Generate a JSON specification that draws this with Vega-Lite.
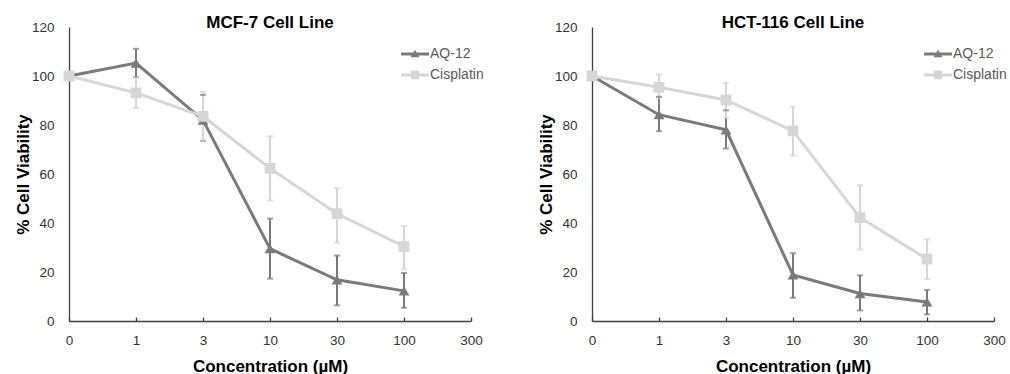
{
  "$schema": "https://vega.github.io/schema/vega-lite/v6.json",
  "padding": {"left": 14, "top": 14, "right": 0, "bottom": 0},
  "spacing": 53,
  "datasets": {
    "mcf7": [
      {"conc": "0", "series": "AQ-12", "mean": 100, "lo": 100, "hi": 100},
      {"conc": "1", "series": "AQ-12", "mean": 105.3, "lo": 99.5, "hi": 111.1},
      {"conc": "3", "series": "AQ-12", "mean": 82, "lo": 73.5, "hi": 92.3},
      {"conc": "10", "series": "AQ-12", "mean": 29.5, "lo": 17.3, "hi": 41.8},
      {"conc": "30", "series": "AQ-12", "mean": 16.8, "lo": 6.4, "hi": 26.7},
      {"conc": "100", "series": "AQ-12", "mean": 12.3, "lo": 5.4, "hi": 19.6},
      {"conc": "0", "series": "Cisplatin", "mean": 100, "lo": 100, "hi": 100},
      {"conc": "1", "series": "Cisplatin", "mean": 93.1, "lo": 87, "hi": 99.3},
      {"conc": "3", "series": "Cisplatin", "mean": 83.5, "lo": 73.8, "hi": 93.5},
      {"conc": "10", "series": "Cisplatin", "mean": 62.3, "lo": 49.2, "hi": 75.4},
      {"conc": "30", "series": "Cisplatin", "mean": 43.8, "lo": 32, "hi": 54.2},
      {"conc": "100", "series": "Cisplatin", "mean": 30.4, "lo": 21.1, "hi": 38.8}
    ],
    "hct116": [
      {"conc": "0", "series": "AQ-12", "mean": 100, "lo": 100, "hi": 100},
      {"conc": "1", "series": "AQ-12", "mean": 84.2, "lo": 77.5, "hi": 91.5},
      {"conc": "3", "series": "AQ-12", "mean": 78, "lo": 70.4, "hi": 86},
      {"conc": "10", "series": "AQ-12", "mean": 18.8, "lo": 9.5, "hi": 27.7},
      {"conc": "30", "series": "AQ-12", "mean": 11.2, "lo": 4.3, "hi": 18.6},
      {"conc": "100", "series": "AQ-12", "mean": 7.8, "lo": 2.7, "hi": 12.7},
      {"conc": "0", "series": "Cisplatin", "mean": 100, "lo": 100, "hi": 100},
      {"conc": "1", "series": "Cisplatin", "mean": 95.4, "lo": 91, "hi": 100.6},
      {"conc": "3", "series": "Cisplatin", "mean": 90.2, "lo": 83, "hi": 97.2},
      {"conc": "10", "series": "Cisplatin", "mean": 77.6, "lo": 67.5, "hi": 87.5},
      {"conc": "30", "series": "Cisplatin", "mean": 42.2, "lo": 29.2, "hi": 55.4},
      {"conc": "100", "series": "Cisplatin", "mean": 25.3, "lo": 17.1, "hi": 33.3}
    ]
  },
  "hconcat": [
    {
      "width": 402,
      "height": 294,
      "data": {"name": "mcf7"},
      "title": {"text": "MCF-7 Cell Line"},
      "encoding": {
        "x": {"field": "conc", "type": "ordinal", "title": "Concentration (µM)", "sort": null,
              "scale": {"type": "point", "padding": 0, "domain": ["0", "1", "3", "10", "30", "100", "300"]}}
      },
      "layer": [
        {"mark": {"type": "rule", "strokeWidth": 2},
         "encoding": {
           "y": {"field": "lo", "type": "quantitative", "title": "% Cell Viability", "scale": {"domain": [0, 120]}},
           "y2": {"field": "hi"},
           "color": {"field": "series", "type": "nominal", "legend": null, "scale": {"domain": ["AQ-12", "Cisplatin"], "range": ["#7a7a7a", "#d6d6d6"]}}}},
        {"mark": {"type": "tick", "thickness": 2, "size": 6},
         "encoding": {
           "y": {"field": "lo", "type": "quantitative", "title": "% Cell Viability", "scale": {"domain": [0, 120]}},
           "color": {"field": "series", "type": "nominal", "legend": null, "scale": {"domain": ["AQ-12", "Cisplatin"], "range": ["#7a7a7a", "#d6d6d6"]}}}},
        {"mark": {"type": "tick", "thickness": 2, "size": 6},
         "encoding": {
           "y": {"field": "hi", "type": "quantitative", "title": "% Cell Viability", "scale": {"domain": [0, 120]}},
           "color": {"field": "series", "type": "nominal", "legend": null, "scale": {"domain": ["AQ-12", "Cisplatin"], "range": ["#7a7a7a", "#d6d6d6"]}}}},
        {"mark": {"type": "line", "strokeWidth": 3},
         "encoding": {
           "y": {"field": "mean", "type": "quantitative", "title": "% Cell Viability", "scale": {"domain": [0, 120]}},
           "color": {"field": "series", "type": "nominal", "legend": null, "scale": {"domain": ["AQ-12", "Cisplatin"], "range": ["#7a7a7a", "#d6d6d6"]}}}},
        {"mark": {"type": "point", "filled": true, "opacity": 1, "size": 115},
         "encoding": {
           "y": {"field": "mean", "type": "quantitative", "title": "% Cell Viability", "scale": {"domain": [0, 120]}},
           "color": {"field": "series", "type": "nominal", "legend": null, "scale": {"domain": ["AQ-12", "Cisplatin"], "range": ["#7a7a7a", "#d6d6d6"]}},
           "shape": {"field": "series", "type": "nominal", "legend": null, "scale": {"domain": ["AQ-12", "Cisplatin"], "range": ["triangle-up", "square"]}}}},
        {"mark": {"type": "point", "filled": true, "opacity": 0},
         "encoding": {
           "y": {"field": "mean", "type": "quantitative", "title": "% Cell Viability", "scale": {"domain": [0, 120]}},
           "color": {"field": "series", "type": "nominal", "scale": {"domain": ["AQ-12", "Cisplatin"], "range": ["#7a7a7a", "#d6d6d6"]},
                     "legend": {"title": null, "orient": "none", "legendX": 332, "legendY": 13, "symbolSize": 784, "symbolOpacity": 1, "symbolStrokeWidth": 0, "labelOffset": 1, "padding": 0, "rowPadding": 0}},
           "shape": {"field": "series", "type": "nominal", "scale": {"domain": ["AQ-12", "Cisplatin"], "range": ["M-1,-0.1H1V0.1H-1Z M-0.32,0.24L0,-0.3L0.32,0.24Z", "M-1,-0.1H1V0.1H-1Z M-0.3,-0.3H0.3V0.3H-0.3Z"]},
                     "legend": {"title": null, "orient": "none", "legendX": 332, "legendY": 13, "symbolSize": 784, "symbolOpacity": 1, "symbolStrokeWidth": 0, "labelOffset": 1, "padding": 0, "rowPadding": 0}}}}
      ],
      "resolve": {"scale": {"color": "independent", "shape": "independent"}, "legend": {"color": "independent", "shape": "independent"}}
    },
    {
      "width": 402,
      "height": 294,
      "data": {"name": "hct116"},
      "title": {"text": "HCT-116 Cell Line"},
      "encoding": {
        "x": {"field": "conc", "type": "ordinal", "title": "Concentration (µM)", "sort": null,
              "scale": {"type": "point", "padding": 0, "domain": ["0", "1", "3", "10", "30", "100", "300"]}}
      },
      "layer": [
        {"mark": {"type": "rule", "strokeWidth": 2},
         "encoding": {
           "y": {"field": "lo", "type": "quantitative", "title": "% Cell Viability", "scale": {"domain": [0, 120]}},
           "y2": {"field": "hi"},
           "color": {"field": "series", "type": "nominal", "legend": null, "scale": {"domain": ["AQ-12", "Cisplatin"], "range": ["#7a7a7a", "#d6d6d6"]}}}},
        {"mark": {"type": "tick", "thickness": 2, "size": 6},
         "encoding": {
           "y": {"field": "lo", "type": "quantitative", "title": "% Cell Viability", "scale": {"domain": [0, 120]}},
           "color": {"field": "series", "type": "nominal", "legend": null, "scale": {"domain": ["AQ-12", "Cisplatin"], "range": ["#7a7a7a", "#d6d6d6"]}}}},
        {"mark": {"type": "tick", "thickness": 2, "size": 6},
         "encoding": {
           "y": {"field": "hi", "type": "quantitative", "title": "% Cell Viability", "scale": {"domain": [0, 120]}},
           "color": {"field": "series", "type": "nominal", "legend": null, "scale": {"domain": ["AQ-12", "Cisplatin"], "range": ["#7a7a7a", "#d6d6d6"]}}}},
        {"mark": {"type": "line", "strokeWidth": 3},
         "encoding": {
           "y": {"field": "mean", "type": "quantitative", "title": "% Cell Viability", "scale": {"domain": [0, 120]}},
           "color": {"field": "series", "type": "nominal", "legend": null, "scale": {"domain": ["AQ-12", "Cisplatin"], "range": ["#7a7a7a", "#d6d6d6"]}}}},
        {"mark": {"type": "point", "filled": true, "opacity": 1, "size": 115},
         "encoding": {
           "y": {"field": "mean", "type": "quantitative", "title": "% Cell Viability", "scale": {"domain": [0, 120]}},
           "color": {"field": "series", "type": "nominal", "legend": null, "scale": {"domain": ["AQ-12", "Cisplatin"], "range": ["#7a7a7a", "#d6d6d6"]}},
           "shape": {"field": "series", "type": "nominal", "legend": null, "scale": {"domain": ["AQ-12", "Cisplatin"], "range": ["triangle-up", "square"]}}}},
        {"mark": {"type": "point", "filled": true, "opacity": 0},
         "encoding": {
           "y": {"field": "mean", "type": "quantitative", "title": "% Cell Viability", "scale": {"domain": [0, 120]}},
           "color": {"field": "series", "type": "nominal", "scale": {"domain": ["AQ-12", "Cisplatin"], "range": ["#7a7a7a", "#d6d6d6"]},
                     "legend": {"title": null, "orient": "none", "legendX": 332, "legendY": 13, "symbolSize": 784, "symbolOpacity": 1, "symbolStrokeWidth": 0, "labelOffset": 1, "padding": 0, "rowPadding": 0}},
           "shape": {"field": "series", "type": "nominal", "scale": {"domain": ["AQ-12", "Cisplatin"], "range": ["M-1,-0.1H1V0.1H-1Z M-0.32,0.24L0,-0.3L0.32,0.24Z", "M-1,-0.1H1V0.1H-1Z M-0.3,-0.3H0.3V0.3H-0.3Z"]},
                     "legend": {"title": null, "orient": "none", "legendX": 332, "legendY": 13, "symbolSize": 784, "symbolOpacity": 1, "symbolStrokeWidth": 0, "labelOffset": 1, "padding": 0, "rowPadding": 0}}}}
      ],
      "resolve": {"scale": {"color": "independent", "shape": "independent"}, "legend": {"color": "independent", "shape": "independent"}}
    }
  ],
  "config": {
    "font": "Liberation Sans",
    "view": {"stroke": null},
    "title": {"font": "Liberation Sans", "fontSize": 17, "fontWeight": "bold", "color": "#000000", "anchor": "middle", "offset": -12},
    "axis": {"grid": false, "labelFont": "Liberation Sans", "labelFontSize": 13.5, "labelColor": "#333333",
             "titleFont": "Liberation Sans", "titleFontSize": 17, "titleFontWeight": "bold", "titleColor": "#000000",
             "domainColor": "#404040", "domainWidth": 1.3, "tickColor": "#404040", "tickWidth": 1.3},
    "axisX": {"tickSize": -4, "labelAngle": 0, "labelPadding": 16, "titlePadding": 12},
    "axisY": {"ticks": false, "tickCount": 6, "labelPadding": 15, "titlePadding": -1},
    "legend": {"labelFont": "Liberation Sans", "labelFontSize": 14, "labelColor": "#595959"}
  }
}
